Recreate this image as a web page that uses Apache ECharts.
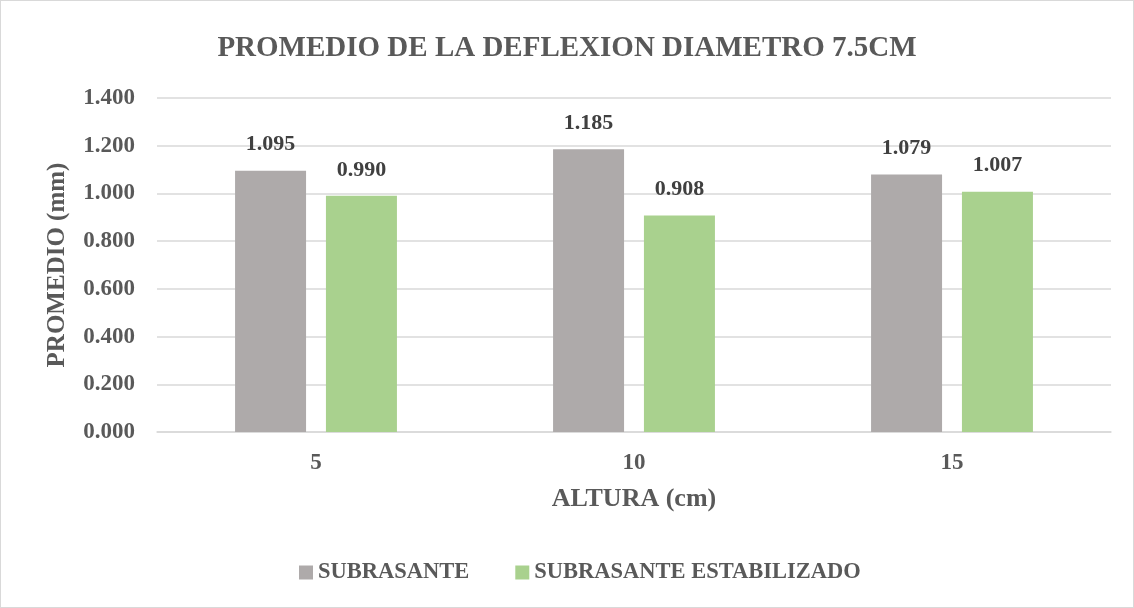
<!DOCTYPE html>
<html>
<head>
<meta charset="utf-8">
<script src="https://cdn.jsdelivr.net/npm/echarts@6/dist/echarts.min.js"></script>
<style>
  html, body { margin: 0; padding: 0; background: #fff; }
  #chart { width: 1132px; height: 606px; border: 1px solid #d9d9d9; }
</style>
</head>
<body>
<div id="chart"></div>
<script>
// datos
var alturas = ['5', '10', '15'];
var subrasante = [1.095, 1.185, 1.079];
var estabilizado = [0.990, 0.908, 1.007];

var font = 'Liberation Serif';
var textColor = '#595959';

var myChart = echarts.init(document.getElementById('chart'));

var labelTop = {
  show: true,
  position: 'top',
  distance: 15,
  color: '#404040',
  fontFamily: font,
  fontWeight: 'bold',
  fontSize: 22,
  formatter: function (p) { return p.value.toFixed(3); }
};

var option = {
  animation: false,
  title: {
    text: 'PROMEDIO DE LA DEFLEXION DIAMETRO 7.5CM',
    left: 'center',
    top: 28,
    textStyle: {
      fontFamily: font,
      fontWeight: 'bold',
      fontSize: 29,
      color: textColor
    }
  },
  legend: {
    bottom: 18,
    left: 293,
    itemWidth: 14,
    itemHeight: 14,
    itemGap: 46,
    icon: 'rect',
    textStyle: {
      fontFamily: font,
      fontWeight: 'bold',
      fontSize: 22.5,
      color: textColor,
      padding: [0, 0, 0, 0]
    },
    data: ['SUBRASANTE', 'SUBRASANTE ESTABILIZADO']
  },
  grid: {
    left: 156,
    right: 22,
    top: 97,
    bottom: 175,
    containLabel: false
  },
  xAxis: {
    type: 'category',
    data: alturas,
    name: 'ALTURA (cm)',
    nameLocation: 'middle',
    nameGap: 54,
    nameTextStyle: {
      fontFamily: font,
      fontWeight: 'bold',
      fontSize: 26,
      color: textColor
    },
    axisLine: { lineStyle: { color: '#d9d9d9', width: 1.5 } },
    axisTick: { show: false },
    axisLabel: {
      margin: 20,
      fontFamily: font,
      fontWeight: 'bold',
      fontSize: 23,
      color: textColor
    }
  },
  yAxis: {
    type: 'value',
    min: 0,
    max: 1.4,
    interval: 0.2,
    name: 'PROMEDIO (mm)',
    nameLocation: 'middle',
    nameGap: 87,
    nameTextStyle: {
      fontFamily: font,
      fontWeight: 'bold',
      fontSize: 25,
      color: textColor
    },
    axisLine: { show: false },
    axisTick: { show: false },
    splitLine: { lineStyle: { color: '#d9d9d9', width: 1.5 } },
    axisLabel: {
      margin: 22,
      fontFamily: font,
      fontWeight: 'bold',
      fontSize: 23,
      color: textColor,
      formatter: function (v) { return v.toFixed(3); }
    }
  },
  series: [
    {
      name: 'SUBRASANTE',
      type: 'bar',
      data: subrasante,
      barWidth: 71,
      barGap: '28%',
      itemStyle: { color: '#aeaaaa' },
      label: labelTop
    },
    {
      name: 'SUBRASANTE ESTABILIZADO',
      type: 'bar',
      data: estabilizado,
      barWidth: 71,
      barGap: '28%',
      itemStyle: { color: '#a9d18e' },
      label: labelTop
    }
  ]
};

myChart.setOption(option);
</script>
</body>
</html>
